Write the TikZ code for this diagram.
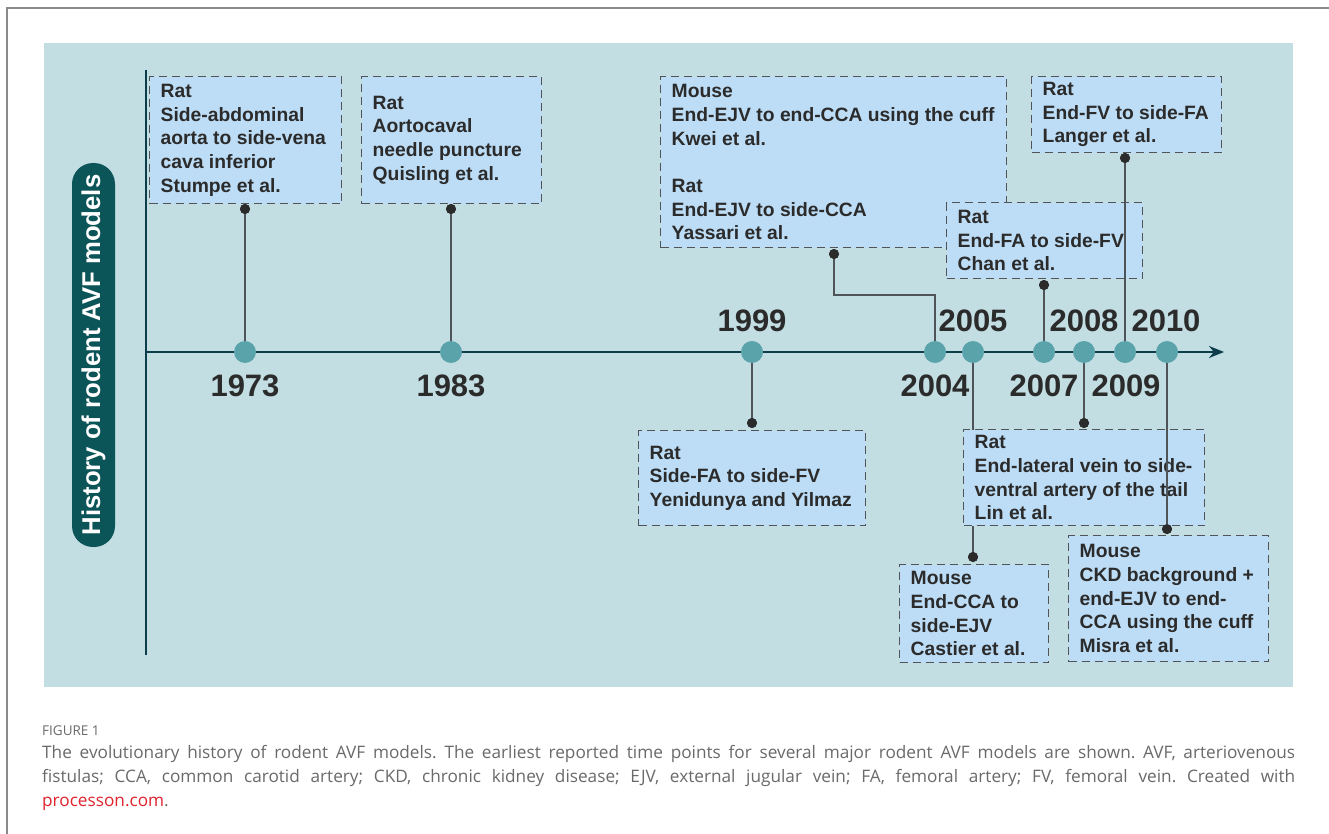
\documentclass[tikz,border=0pt]{standalone}
\usepackage{fontspec}
\setmainfont{Liberation Sans}
\newfontfamily\capfont{Open Sans}
\usetikzlibrary{arrows.meta}
\definecolor{panelbg}{HTML}{C2DEE3}
\definecolor{boxfill}{HTML}{BDDDF6}
\definecolor{boxline}{HTML}{4F5458}
\definecolor{axiscol}{HTML}{0B3D4A}
\definecolor{dotcol}{HTML}{5BA3AB}
\definecolor{pillcol}{HTML}{0B5458}
\definecolor{txtcol}{HTML}{2B2B2B}
\definecolor{capcol}{HTML}{6A6A6A}
\definecolor{linkred}{HTML}{E0242E}
\definecolor{framecol}{HTML}{8A8A8A}
\tikzset{
  boxfr/.style={draw=boxline, fill=boxfill, dash pattern=on 8pt off 5pt, line width=1.4pt, inner sep=0pt, anchor=north west},
  boxtxt/.style={anchor=west, align=left, inner sep=0pt, text=txtcol, font=\fontsize{19.3}{23.7}\selectfont\bfseries},
  tdot/.style={circle, fill=dotcol, minimum size=22pt, inner sep=0pt},
  sdot/.style={circle, fill=txtcol, minimum size=10pt, inner sep=0pt},
  yearlab/.style={text=txtcol, inner sep=0pt, font=\fontsize{31}{31}\selectfont\bfseries},
  conn/.style={draw=boxline, line width=1.4pt},
  capline/.style={anchor=base west, inner sep=0pt, text=capcol, font=\capfont\fontsize{17.2}{24}\selectfont\frenchspacing}
}
\begin{document}
\begin{tikzpicture}[x=1pt,y=-1pt]
\useasboundingbox (0,0) rectangle (1329,834);
\fill[white] (0,0) rectangle (1329,834);
% outer frame
\draw[framecol, line width=1.2pt] (7,834) -- (7,8) -- (1329,8);
% panel
\fill[panelbg] (44,43) rectangle (1293,687);
% title pill
\node[rotate=90, fill=pillcol, rounded corners=21pt, minimum width=384pt, minimum height=43pt, inner sep=0pt, text=white, font=\fontsize{25.7}{26}\selectfont\bfseries] (title) at (93.5,355) {History of rodent AVF models};
% axes
\coordinate (vtop) at (146,70);
\coordinate (vbot) at (146,655);
\coordinate (hstart) at (146,352);
\coordinate (hend) at (1224,352);
\draw[axiscol, line width=2pt] (vtop) -- (vbot);
\draw[axiscol, line width=2pt, -{Stealth[length=15pt,width=12pt]}] (hstart) -- (hend);
% timeline positions
\coordinate (p1973) at (245,352);
\coordinate (p1983) at (451,352);
\coordinate (p1999) at (752,352);
\coordinate (p2004) at (935,352);
\coordinate (p2005) at (973,352);
\coordinate (p2007) at (1044,352);
\coordinate (p2008) at (1084,352);
\coordinate (p2009) at (1125,352);
\coordinate (p2010) at (1167,352);
% small dots
\node[sdot] (s1973) at (245,209) {};
\node[sdot] (s1983) at (451,209) {};
\node[sdot] (s1999) at (752,423) {};
\node[sdot] (s2004) at (834,254) {};
\node[sdot] (s2005) at (973,557) {};
\node[sdot] (s2007) at (1044,285) {};
\node[sdot] (s2008) at (1084,423) {};
\node[sdot] (s2009) at (1125,158) {};
\node[sdot] (s2010) at (1167,529) {};
% connector hidden behind the Lin box
\draw[conn] (p2005) -- (s2005);
% boxes
\node[boxfr, minimum width=192pt, minimum height=127pt] (b1) at (149,76) {};
\node[boxtxt] (t1) at ([xshift=11.5pt]b1.west) {Rat\\Side-abdominal\\aorta to side-vena\\cava inferior\\Stumpe et al.};
\node[boxfr, minimum width=180pt, minimum height=127pt] (b2) at (361,76) {};
\node[boxtxt] (t2) at ([xshift=11.5pt]b2.west) {Rat\\Aortocaval\\needle puncture\\Quisling et al.};
\node[boxfr, minimum width=227pt, minimum height=95pt] (b3) at (638,430) {};
\node[boxtxt] (t3) at ([xshift=11.5pt]b3.west) {Rat\\Side-FA to side-FV\\Yenidunya and Yilmaz};
\node[boxfr, minimum width=346pt, minimum height=171pt] (b4) at (660,76) {};
\node[boxtxt] (t4) at ([xshift=11.5pt]b4.west) {Mouse\\End-EJV to end-CCA using the cuff\\Kwei et al.\\[23.7pt]Rat\\End-EJV to side-CCA\\Yassari et al.};
\node[boxfr, minimum width=196pt, minimum height=76pt] (b5) at (946,202) {};
\node[boxtxt] (t5) at ([xshift=11.5pt]b5.west) {Rat\\End-FA to side-FV\\Chan et al.};
\node[boxfr, minimum width=190pt, minimum height=76pt] (b6) at (1031,76) {};
\node[boxtxt] (t6) at ([xshift=11.5pt]b6.west) {Rat\\End-FV to side-FA\\Langer et al.};
\node[boxfr, minimum width=241pt, minimum height=96pt] (b7) at (963,429) {};
\node[boxtxt] (t7) at ([xshift=11.5pt]b7.west) {Rat\\End-lateral vein to side-\\ventral artery of the tail\\Lin et al.};
\node[boxfr, minimum width=149pt, minimum height=98pt] (b8) at (899,564) {};
\node[boxtxt] (t8) at ([xshift=11.5pt]b8.west) {Mouse\\End-CCA to\\side-EJV\\Castier et al.};
\node[boxfr, minimum width=200pt, minimum height=126pt] (b9) at (1068,535) {};
\node[boxtxt] (t9) at ([xshift=11.5pt]b9.west) {Mouse\\CKD background +\\end-EJV to end-\\CCA using the cuff\\Misra et al.};
% connectors
\coordinate (c2004) at (834,295);
\draw[conn] (p1973) -- (s1973);
\draw[conn] (p1983) -- (s1983);
\draw[conn] (p1999) -- (s1999);
\draw[conn] (s2004) -- (c2004) -| (p2004);
\draw[conn] (p2007) -- (s2007);
\draw[conn] (p2008) -- (s2008);
\draw[conn] (p2009) -- (s2009);
\draw[conn] (p2010) -- (s2010);
% small dots on top
\foreach \s in {s1973,s1983,s1999,s2004,s2005,s2007,s2008,s2009,s2010}
  \fill[txtcol] (\s) circle (5pt);
% timeline dots
\node[tdot] (d1973) at (p1973) {};
\node[tdot] (d1983) at (p1983) {};
\node[tdot] (d1999) at (p1999) {};
\node[tdot] (d2004) at (p2004) {};
\node[tdot] (d2005) at (p2005) {};
\node[tdot] (d2007) at (p2007) {};
\node[tdot] (d2008) at (p2008) {};
\node[tdot] (d2009) at (p2009) {};
\node[tdot] (d2010) at (p2010) {};
% year labels
\node[yearlab] (y1973) at (245,386) {1973};
\node[yearlab] (y1983) at (451,386) {1983};
\node[yearlab] (y1999) at (752,321) {1999};
\node[yearlab] (y2004) at (935,386) {2004};
\node[yearlab] (y2005) at (973,321) {2005};
\node[yearlab] (y2007) at (1044,386) {2007};
\node[yearlab] (y2008) at (1084,321) {2008};
\node[yearlab] (y2009) at (1126,386) {2009};
\node[yearlab] (y2010) at (1166,321) {2010};
% caption
\node[anchor=base west, inner sep=0pt, text=capcol, font=\capfont\fontsize{13.5}{14}\selectfont] (fig) at (42,735) {FIGURE 1};
\node[capline] (cap1) at (42,758) {\makebox[1253pt][s]{The evolutionary history of rodent AVF models. The earliest reported time points for several major rodent AVF models are shown. AVF, arteriovenous}};
\node[capline] (cap2) at (42,782) {\makebox[1253pt][s]{fistulas; CCA, common carotid artery; CKD, chronic kidney disease; EJV, external jugular vein; FA, femoral artery; FV, femoral vein. Created with}};
\node[capline] (cap3) at (42,806) {\textcolor{linkred}{processon.com}.};
\end{tikzpicture}
\end{document}
